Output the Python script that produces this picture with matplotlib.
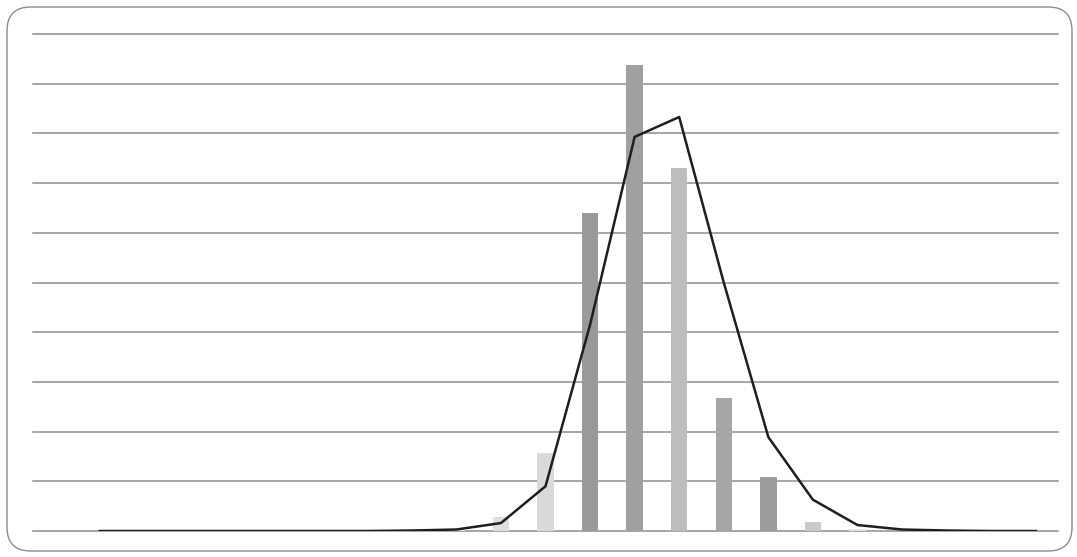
import numpy as np
import matplotlib
matplotlib.use('Agg')
import matplotlib.pyplot as plt
from matplotlib.patches import FancyBboxPatch

# 23 categories, no labels shown on the chart
categories = list(range(23))

bar_values = [0, 0, 0, 0, 0, 0, 0, 0, 0, 0.02, 0.28, 1.57, 6.40, 9.38,
              7.30, 2.68, 1.09, 0.18, 0.04, 0, 0, 0, 0]
bar_colors = ['#cccccc'] * 9 + ['#e6e6e6', '#dedede', '#dadada', '#999999',
              '#a0a0a0', '#bdbdbd', '#a6a6a6', '#9c9c9c', '#c9c9c9',
              '#e4e4e4'] + ['#cccccc'] * 4

# fitted curve, first category has no value
line_values = [np.nan, 0, 0, 0, 0, 0, 0, 0, 0.01, 0.03, 0.16, 0.90, 4.15,
               7.93, 8.33, 5.00, 1.89, 0.63, 0.12, 0.03, 0.01, 0, 0]

fig = plt.figure(figsize=(10.77, 5.57), dpi=100)
ax = fig.add_axes([33/1077, 1 - 531/557, (1058 - 33)/1077, (531 - 34)/557])

x = np.arange(len(categories))
ax.bar(x, bar_values, width=0.37, color=bar_colors, zorder=2)
ax.plot(np.arange(len(line_values)), line_values, color='#1e1e1e',
        linewidth=1.8, zorder=3)

ax.set_xlim(-0.5, len(categories) - 0.5)
ax.set_ylim(0, 10)
ax.set_yticks(np.arange(0, 11, 1))
ax.grid(axis='y', color='#8e8e8e', linewidth=1.1, zorder=0)
for gl in ax.get_ygridlines():
    gl.set_clip_on(False)
ax.set_xticks([])
ax.tick_params(left=False, labelleft=False)
for s in ax.spines.values():
    s.set_visible(False)

border = FancyBboxPatch((7/1077, 6/557), (1072 - 7)/1077, (550 - 6)/557,
                        boxstyle='round,pad=0,rounding_size=0.022',
                        transform=fig.transFigure, fill=False,
                        edgecolor='#8c8c8c', linewidth=1.0,
                        mutation_aspect=1077/557)
fig.patches.append(border)

fig.savefig('out.png', dpi=100)
